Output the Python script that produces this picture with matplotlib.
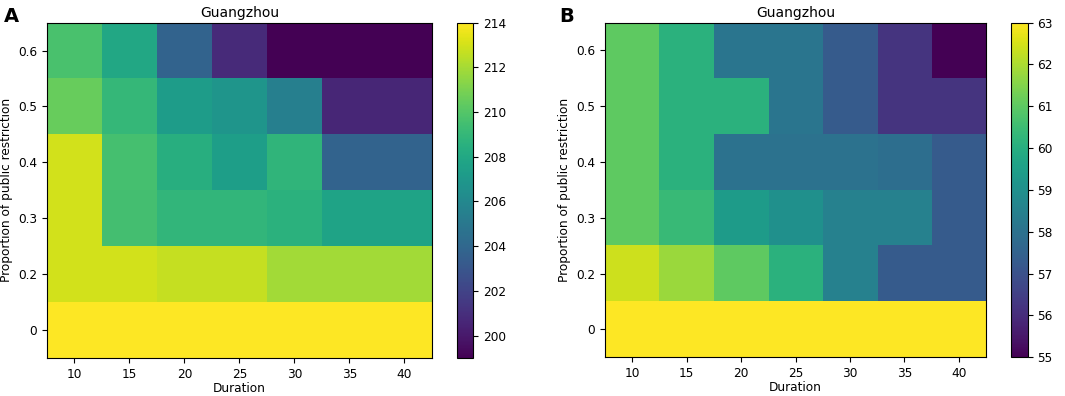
import matplotlib
matplotlib.use("Agg")
import matplotlib.pyplot as plt
import numpy as np

durations = [10, 15, 20, 25, 30, 35, 40]
proportions = ["0", "0.2", "0.3", "0.4", "0.5", "0.6"]

# rows bottom -> top: 0, 0.2, 0.3, 0.4, 0.5, 0.6
panel_a = [
    [214.0, 214.0, 214.0, 214.0, 214.0, 214.0, 214.0],
    [213.0, 213.0, 212.7, 212.7, 211.9, 211.9, 211.9],
    [213.0, 209.5, 208.9, 208.9, 208.6, 207.7, 207.7],
    [213.0, 209.6, 208.4, 207.4, 208.8, 203.8, 203.8],
    [210.5, 209.0, 207.3, 206.8, 205.5, 200.6, 200.6],
    [209.7, 208.0, 203.8, 200.8, 199.0, 199.0, 199.0],
]

panel_b = [
    [63.0, 63.0, 63.0, 63.0, 63.0, 63.0, 63.0],
    [62.4, 61.8, 61.0, 60.1, 58.5, 57.3, 57.3],
    [61.0, 60.4, 59.4, 59.0, 58.5, 58.5, 57.3],
    [61.0, 60.1, 58.0, 58.0, 58.0, 57.9, 57.3],
    [61.0, 60.1, 60.1, 58.1, 57.3, 56.2, 56.2],
    [61.0, 60.1, 58.1, 58.1, 57.3, 56.2, 55.0],
]

fig = plt.figure(figsize=(10.65, 3.96), dpi=100)


def draw(data, ax_rect, cb_rect, cb_ticks, letter, letter_x):
    ax = fig.add_axes(ax_rect)
    cax = fig.add_axes(cb_rect)
    im = ax.imshow(np.array(data), origin="lower", aspect="auto", cmap="viridis")
    ax.set_xticks(range(len(durations)))
    ax.set_xticklabels([str(d) for d in durations])
    ax.set_yticks(range(len(proportions)))
    ax.set_yticklabels(proportions)
    ax.tick_params(labelsize=8.7)
    ax.set_xlabel("Duration", fontsize=8.7, labelpad=1)
    ax.set_ylabel("Proportion of public restriction", fontsize=8.7)
    ax.set_title("Guangzhou", fontsize=10, pad=4)
    cb = fig.colorbar(im, cax=cax)
    cb.set_ticks(cb_ticks)
    cb.ax.tick_params(labelsize=8.7)
    fig.text(letter_x, 0.945, letter, fontsize=14, fontweight="bold")


draw(panel_a, [0.0441, 0.096, 0.3615, 0.847], [0.429, 0.096, 0.0155, 0.847],
     list(range(200, 215, 2)), "A", 0.004)
draw(panel_b, [0.568, 0.098, 0.358, 0.845], [0.949, 0.098, 0.0160, 0.845],
     list(range(55, 64)), "B", 0.525)

fig.savefig("out.png", dpi=100)
